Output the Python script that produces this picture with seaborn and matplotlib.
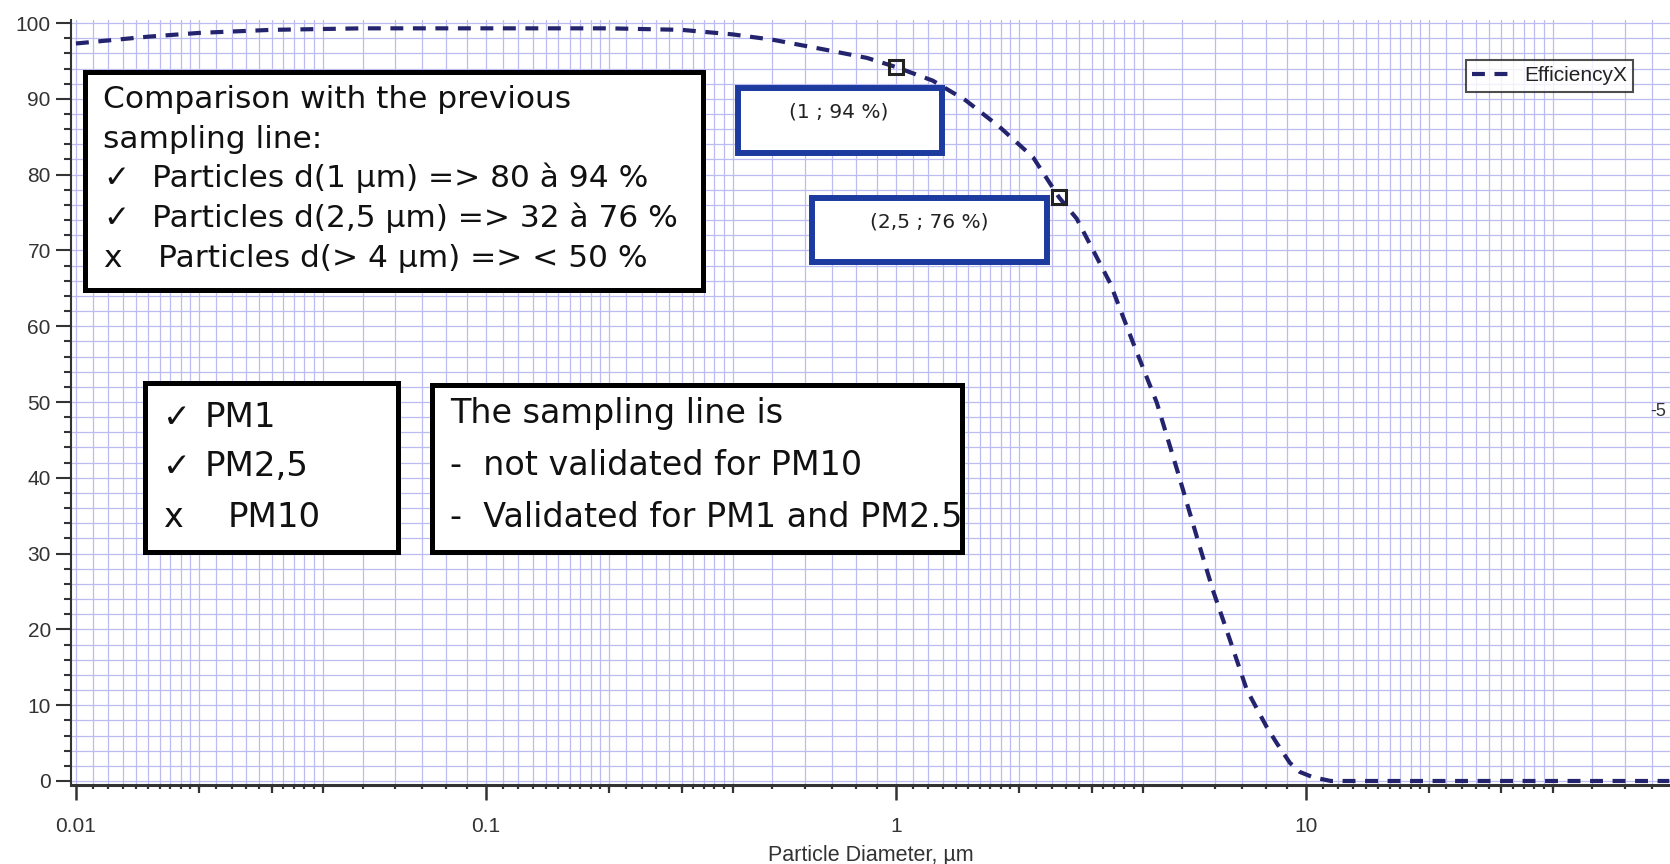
import numpy as np
import pandas as pd
import matplotlib
matplotlib.use("Agg")
import matplotlib.pyplot as plt
import seaborn as sns
from matplotlib.patches import Rectangle
from matplotlib.ticker import FixedLocator, FixedFormatter, NullLocator

# ---------------- data ----------------
diameter_um = [0.01, 0.015, 0.02, 0.03, 0.05, 0.1, 0.2, 0.3, 0.4, 0.5, 0.67, 0.85,
               1.0, 1.23, 1.48, 1.79, 2.16, 2.5, 2.76, 3.33, 3.79, 4.33, 4.88, 5.51,
               5.93, 6.53, 7.18, 8.03, 8.49, 9.14, 9.66, 10.4, 11.5, 20, 40, 77]
efficiency = [97.3, 98.2, 98.7, 99.1, 99.3, 99.3, 99.3, 99.1, 98.5, 97.8, 96.5, 95.4,
              94.2, 92.4, 89.8, 86.3, 82.3, 77.0, 74.2, 65.7, 57.8, 49.9, 40.6, 30.9,
              25.2, 18.6, 12.0, 7.1, 5.0, 2.4, 1.2, 0.5, 0.0, 0.0, 0.0, 0.0]
series_name = "EfficiencyX"

marker_diameter = [1.0, 2.5]
marker_efficiency = [94.2, 77.0]
marker_labels = ["(1 ; 94 %)", "(2,5 ; 76 %)"]

x_major_ticks = [0.01, 0.1, 1, 10]
x_major_labels = ["0.01", "0.1", "1", "10"]
y_major_ticks = list(range(0, 101, 10))
y_major_labels = [str(v) for v in y_major_ticks]
x_label = "Particle Diameter, µm"

box1_symbols = ["", "", "✓", "✓", "x"]
box1_lines = ["Comparison with the previous", "sampling line:",
              "Particles d(1 µm) => 80 à 94 %",
              "Particles d(2,5 µm) => 32 à 76 %",
              "Particles d(> 4 µm) => < 50 %"]
pm_symbols = ["✓", "✓", "x"]
pm_labels = ["PM1", "PM2,5", "PM10"]
box5_lines = ["The sampling line is", "-  not validated for PM10",
              "-  Validated for PM1 and PM2.5"]
edge_fragment = "-5"

# ---------------- style ----------------
W, H = 1670, 864
sns.set_style("white")
plt.rcParams["font.family"] = ["Liberation Sans", "DejaVu Sans"]

fig = plt.figure(figsize=(W / 100, H / 100), dpi=100)
fig.patch.set_facecolor("white")
ax = fig.add_axes([70.7 / W, 1 - 785 / H, 1 - 70.7 / W, (785 - 20) / H])
ax.set_facecolor("white")

def fx(x):
    return x / W

def fy(y):
    return 1 - y / H

df = pd.DataFrame({"d": diameter_um, "eff": efficiency})
line_color = "#24246e"
sns.lineplot(data=df, x="d", y="eff", ax=ax, color=line_color, lw=3.0,
             linestyle="--", label=series_name, zorder=4)
ax.lines[-1].set_dashes([3.1, 2.3])

mk = pd.DataFrame({"d": marker_diameter, "eff": marker_efficiency})
ax.plot(mk["d"], mk["eff"], ls="none", marker="s", markersize=9.5,
        markerfacecolor="none", markeredgecolor="#222222", markeredgewidth=2.2,
        zorder=5)

ax.set_xscale("log")
ax.set_xlim(0.00971, 77.3)
ax.set_ylim(-0.53, 100.4)

# ticks
minor_mult = [1.1, 1.2, 1.3, 1.4, 1.5, 1.6, 1.7, 1.8, 1.9,
              2.2, 2.4, 2.6, 2.8, 3.2, 3.4, 3.6, 3.8, 5, 6, 7, 8, 9]
medium_mult = [2, 3, 4]
minor_pos = [m * b for b in x_major_ticks for m in minor_mult]
medium_pos = [m * b for b in x_major_ticks for m in medium_mult]
ax.xaxis.set_major_locator(FixedLocator(x_major_ticks))
ax.xaxis.set_major_formatter(FixedFormatter(x_major_labels))
ax.xaxis.set_minor_locator(FixedLocator(sorted(minor_pos + medium_pos)))
ax.xaxis.set_minor_formatter(FixedFormatter([]))
ax.yaxis.set_major_locator(FixedLocator(y_major_ticks))
ax.yaxis.set_major_formatter(FixedFormatter(y_major_labels))
ax.yaxis.set_minor_locator(FixedLocator(list(range(0, 101, 2))))

ax.tick_params(axis="x", which="major", direction="out", length=10.8, width=1.8,
               color="#333333", labelsize=15, pad=12, bottom=True)
ax.tick_params(axis="x", which="minor", direction="out", length=3.0, width=1.6,
               color="#333333", bottom=True)
ax.tick_params(axis="y", which="major", direction="out", length=10.8, width=1.5,
               color="#333333", labelsize=15, pad=3.5, left=True)
ax.tick_params(axis="y", which="minor", direction="out", length=5.0, width=1.5,
               color="#333333", left=True)
for lab in ax.get_xticklabels() + ax.get_yticklabels():
    lab.set_color("#333333")

sec = ax.secondary_xaxis("bottom")
sec.set_xticks(medium_pos, labels=[""] * len(medium_pos))
sec.xaxis.set_minor_locator(NullLocator())
sec.tick_params(axis="x", which="major", direction="out", length=5.8, width=1.6,
                color="#333333")
sec.spines["bottom"].set_visible(False)

ax.set_xlabel(x_label, fontsize=15.5, color="#333333", labelpad=7)
ax.set_ylabel("")

for s in ["top", "right"]:
    ax.spines[s].set_visible(False)
ax.spines["bottom"].set_linewidth(2.2)
ax.spines["bottom"].set_color("#333333")
ax.spines["left"].set_linewidth(1.5)
ax.spines["left"].set_color("#333333")

grid_color = "#bcbcf2"
ax.grid(True, which="both", axis="both", color=grid_color, lw=0.9, zorder=0)
ax.set_axisbelow(True)

# legend
leg = ax.legend(loc="upper right", bbox_to_anchor=(fx(1633), fy(60)),
                bbox_transform=fig.transFigure, borderaxespad=0, fontsize=15,
                frameon=True, fancybox=False, handlelength=1.75, handletextpad=0.75,
                borderpad=0.3)
leg.get_frame().set_edgecolor("#222222")
leg.get_frame().set_linewidth(1.5)
for t in leg.get_texts():
    t.set_color("#222222")

# ---------------- annotation boxes ----------------
def box(x0, y0, x1, y1, color, lw):
    r = Rectangle((fx(x0), fy(y1)), fx(x1) - fx(x0), fy(y0) - fy(y1),
                  transform=fig.transFigure, facecolor="white", edgecolor=color,
                  linewidth=lw, zorder=6)
    fig.patches.append(r)

box_font = ["DejaVu Sans"]
box(85, 72, 703, 290, "black", 3.6)
baselines1 = [108, 148, 187, 227, 267]
for sym, txt, yb in zip(box1_symbols, box1_lines, baselines1):
    if sym:
        fig.text(fx(103), fy(yb), sym, fontsize=22.5, family=box_font,
                 va="baseline", ha="left", color="#111111", zorder=7)
        xt = 152 if sym == "✓" else 158
    else:
        xt = 103
    fig.text(fx(xt), fy(yb), txt, fontsize=22.5, family=box_font,
             va="baseline", ha="left", color="#111111", zorder=7)

box(145, 383, 398, 552, "black", 3.6)
baselines4 = [427, 476, 527]
for sym, txt, yb in zip(pm_symbols, pm_labels, baselines4):
    fig.text(fx(163), fy(yb), sym, fontsize=24, family=box_font,
             va="baseline", ha="left", color="#111111", zorder=7)
    xt = 205 if sym == "✓" else 228
    fig.text(fx(xt), fy(yb), txt, fontsize=24.5, family=box_font,
             va="baseline", ha="left", color="#111111", zorder=7)

box(432, 385, 962, 552, "black", 3.6)
baselines5 = [423, 475, 527]
for txt, yb in zip(box5_lines, baselines5):
    fig.text(fx(450), fy(yb), txt, fontsize=24, family=box_font,
             va="baseline", ha="left", color="#111111", zorder=7)

blue = "#1d3b9e"
box(738, 88, 942, 153, blue, 4.3)
fig.text(fx(839), fy(112), marker_labels[0], fontsize=14.5, family=box_font,
         va="center", ha="center", color="#222222", zorder=7)
box(812, 198, 1047, 262, blue, 4.3)
fig.text(fx(929), fy(222), marker_labels[1], fontsize=14.5, family=box_font,
         va="center", ha="center", color="#222222", zorder=7)

# label fragment at the right edge
fig.text(fx(1666), fy(412), edge_fragment, fontsize=13, color="#333333",
         va="center", ha="right")

fig.savefig("out.png", dpi=100, facecolor="white")
